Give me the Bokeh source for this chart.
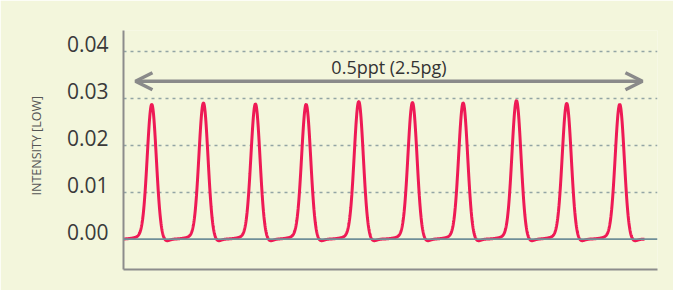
import numpy as np
from bokeh.plotting import figure
from bokeh.models import (Arrow, OpenHead, Label, Span, FixedTicker, Range1d,
                          CustomJSTickFormatter, Title)
from bokeh.embed import file_html
from bokeh.resources import INLINE

# ---- data ----
peak_times = [0.544, 1.538, 2.538, 3.513, 4.525, 5.558, 6.533, 7.558, 8.525, 9.544]
peak_heights = [0.0283, 0.0286, 0.0284, 0.0283, 0.0289, 0.0287, 0.0286, 0.0291, 0.0285, 0.0283]
peak_sigma = 0.087          # peak width (time units)
y_ticks = [0.0, 0.01, 0.02, 0.03, 0.04]
y_label = "INTENSITY [LOW]"
span_text = "0.5ppt (2.5pg)"
span_start, span_end, span_level = 0.23, 9.98, 0.0336
trace_end = 10.02

# chromatogram trace built from the peak table
t = np.linspace(0.0, trace_end, 2000)
sig = np.zeros_like(t)
for c, h in zip(peak_times, peak_heights):
    sig += h * np.exp(-((t - c) ** 2) / (2 * peak_sigma ** 2))
    sig += 0.0006 * np.exp(-((t - (c - 0.15)) ** 2) / (2 * 0.16 ** 2))
    sig -= 0.0005 * np.exp(-((t - (c + 0.26)) ** 2) / (2 * 0.07 ** 2))

PANEL = "#f3f6dc"
p = figure(width=673, height=290, output_backend="svg", toolbar_location=None,
           x_range=Range1d(0, 10.27), y_range=Range1d(-0.00647, 0.04441),
           min_border_left=123, min_border_right=16, min_border_top=30, min_border_bottom=21)
p.background_fill_color = PANEL
p.border_fill_color = PANEL
p.outline_line_color = None

# grid
p.xgrid.visible = False
p.ygrid.ticker = FixedTicker(ticks=y_ticks[1:])
p.ygrid.grid_line_color = "#92a5a4"
p.ygrid.grid_line_dash = "3 4"
p.ygrid.grid_line_width = 1.6

# axes: labels sit ~7px above their grid lines in the original
label_lift = 0.00149
yax = p.yaxis[0]
yax.ticker = FixedTicker(ticks=[v + label_lift for v in y_ticks])
yax.formatter = CustomJSTickFormatter(args=dict(lift=label_lift),
                                      code="return (tick - lift).toFixed(2);")
yax.major_tick_line_color = None
yax.minor_tick_line_color = None
yax.major_tick_out = 0
yax.major_tick_in = 0
yax.axis_line_color = "#8c8c8c"
yax.axis_line_width = 2
yax.major_label_text_font = "Open Sans"
yax.major_label_text_font_size = "21px"
yax.major_label_text_color = "#3a3a3a"
yax.major_label_standoff = 15

xax = p.xaxis[0]
xax.ticker = FixedTicker(ticks=[])
xax.major_tick_line_color = None
xax.minor_tick_line_color = None
xax.axis_line_color = "#8c8c8c"
xax.axis_line_width = 2

# y axis title
ytitle = Title(text=y_label, align="left", offset=74, standoff=37,
               text_font="Open Sans", text_font_size="12.5px",
               text_font_style="normal", text_color="#555555")
p.add_layout(ytitle, "left")

# zero line
p.add_layout(Span(location=0.0, dimension="width", line_color="#6f8f98", line_width=1.6))

# trace
p.line(t, sig, line_color="#ee1a55", line_width=3)

# span arrow
p.add_layout(Arrow(x_start=span_start, x_end=span_end, y_start=span_level, y_end=span_level,
                   line_color="#8a8a8a", line_width=3.5,
                   start=OpenHead(size=17, line_color="#8a8a8a", line_width=3.5),
                   end=OpenHead(size=17, line_color="#8a8a8a", line_width=3.5)))
p.add_layout(Label(x=(span_start + span_end) / 2, y=0.0367, text=span_text,
                   text_align="center", text_baseline="middle",
                   text_font="Open Sans", text_font_size="18px", text_color="#333333"))

open("out.html", "w").write(file_html(p, INLINE))
